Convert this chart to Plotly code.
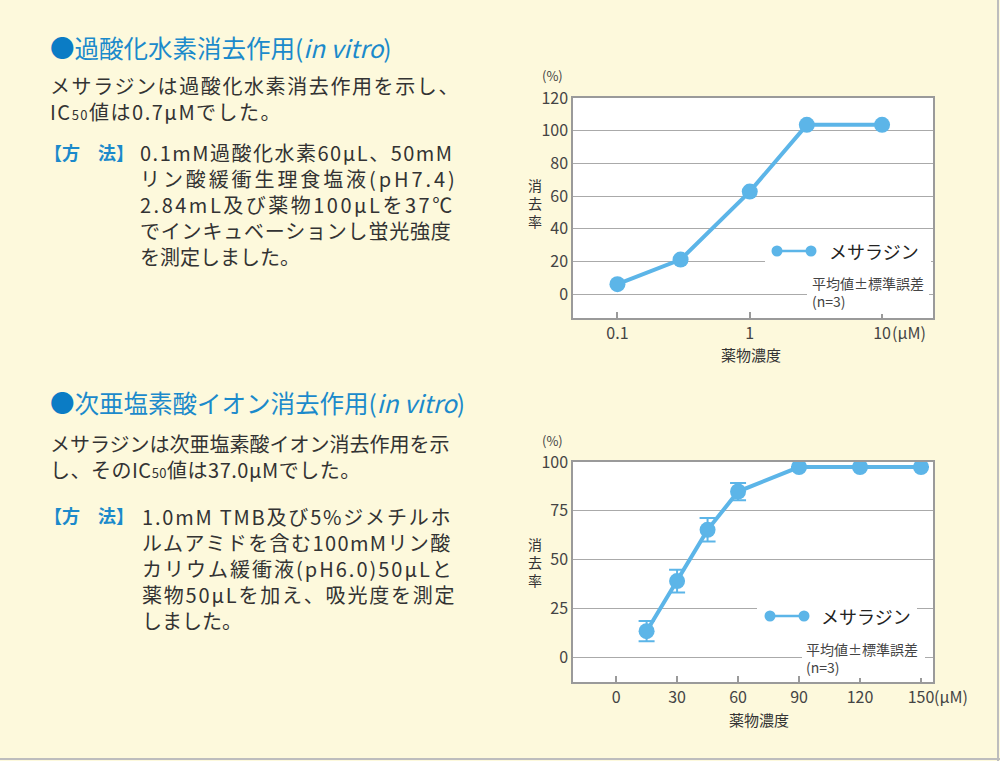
import plotly.graph_objects as go

# ---------------- data ----------------
# Chart 1: hydrogen peroxide scavenging (log concentration, μM)
conc1 = [0.1, 0.3, 1.0, 2.7, 10]
scav1 = [6.2, 21.2, 62.8, 103.6, 103.6]
xticks1 = [0.1, 1, 10]
xticklabels1 = ["0.1", "1", "10"]
yticks1 = [0, 20, 40, 60, 80, 100, 120]

# Chart 2: hypochlorite scavenging (μM)
conc2 = [15, 30, 45, 60, 90, 120, 150]
scav2 = [13.5, 39.1, 65.3, 84.9, 97.4, 97.4, 97.4]
sem2 = [5.2, 5.8, 6.0, 4.4, None, None, None]
xticks2 = [0, 30, 60, 90, 120, 150]
yticks2 = [0, 25, 50, 75, 100]

series_name = "メサラジン"
note_lines = ["平均値±標準誤差", "(n=3)"]

# ---------------- style ----------------
W, H = 1000, 761
JP = "Noto Sans CJK JP"
BG = "#FDF9DC"
BLUE = "#5CB5E8"
TITLE_BLUE = "#1B8ACB"
TEXT = "#333333"
AXIS = "#9A9A9A"
GRID = "#AAAAAA"


def px(x):
    return x / W


def py(y):
    return 1 - y / H


fig = go.Figure()

fig.add_trace(go.Scatter(
    x=conc1, y=scav1, xaxis="x", yaxis="y", mode="lines+markers",
    line=dict(color=BLUE, width=4), marker=dict(color=BLUE, size=16),
    showlegend=False, hoverinfo="skip"))

fig.add_trace(go.Scatter(
    x=conc2, y=scav2, xaxis="x2", yaxis="y2", mode="lines+markers",
    line=dict(color=BLUE, width=4), marker=dict(color=BLUE, size=16),
    error_y=dict(type="data", array=sem2, visible=True, color=BLUE,
                 thickness=2, width=8),
    showlegend=False, hoverinfo="skip"))

# plot areas (pixel geometry)
L, R = 573, 933
T1, B1 = 98, 318
T2, B2 = 462, 682

tickfont = dict(family=JP, size=16, color="#444444")
common_x = dict(showline=True, linecolor=AXIS, linewidth=1.5, mirror=True,
                showgrid=False, zeroline=False, ticks="inside", ticklen=6,
                tickcolor=AXIS, tickwidth=1.5, tickfont=tickfont,
                automargin=False, fixedrange=True)
common_y = dict(showline=True, linecolor=AXIS, linewidth=1.5, mirror=True,
                showgrid=True, gridcolor=GRID, gridwidth=1, zeroline=False,
                ticks="", tickfont=tickfont, automargin=False,
                fixedrange=True)

fig.update_layout(
    width=W, height=H, margin=dict(l=0, r=0, t=0, b=0, pad=0, autoexpand=False),
    paper_bgcolor=BG, plot_bgcolor="white", showlegend=False,
    xaxis=dict(type="log", range=[-1.336, 1.385], domain=[px(L), px(R)],
               anchor="y", tickvals=xticks1, ticktext=xticklabels1, **common_x),
    yaxis=dict(range=[-14.5, 120], domain=[py(B1), py(T1)], anchor="x",
               tickvals=yticks1, **common_y),
    xaxis2=dict(range=[-21.2, 155.9], domain=[px(L), px(R)], anchor="y2",
                tickvals=xticks2, **common_x),
    yaxis2=dict(range=[-12.5, 100], domain=[py(B2), py(T2)], anchor="x2",
                tickvals=yticks2, **common_y),
)

shapes = []
annotations = []


def white_box(x0, x1, y0, y1):
    shapes.append(dict(type="rect", xref="paper", yref="paper",
                       x0=px(x0), x1=px(x1), y0=py(y1), y1=py(y0),
                       fillcolor="white", line=dict(width=0), layer="above"))


def legend_sample(x_a, x_b, y):
    shapes.append(dict(type="line", xref="paper", yref="paper",
                       x0=px(x_a), x1=px(x_b), y0=py(y), y1=py(y),
                       line=dict(color=BLUE, width=2.5), layer="above"))
    r = 5.5
    for xc in (x_a, x_b):
        shapes.append(dict(type="circle", xref="paper", yref="paper",
                           x0=px(xc - r), x1=px(xc + r),
                           y0=py(y + r), y1=py(y - r),
                           fillcolor=BLUE, line=dict(width=0), layer="above"))


def text(x, y, s, size=20, color=TEXT, anchor="left", valign="middle"):
    f = dict(family=JP, size=size, color=color)
    annotations.append(dict(xref="paper", yref="paper", x=px(x), y=py(y),
                            text=s, showarrow=False, xanchor=anchor,
                            yanchor=valign, font=f, align="left",
                            borderpad=0))


def spaced(lines, spacing):
    return "<br>".join(
        "<span style='letter-spacing:%.1fpx'>%s</span>" % (sp, ln) if sp else ln
        for ln, sp in zip(lines, spacing))


# chart 1 decorations
white_box(765, 931, 240, 266)
white_box(807, 929, 268, 314)
legend_sample(777, 811, 251)
text(828, 251, series_name, size=18, color="#222222")
text(811, 292.5, "<br>".join(note_lines), size=14, color="#444444")
text(552, 76, "(%)", size=13, color="#444444", anchor="center")
text(535, 203, "消<br>去<br>率", size=14, color="#333333", anchor="center")
text(751, 355, "薬物濃度", size=15, color="#333333", anchor="center")
text(891, 332, "(μM)", size=16, color="#444444")

# chart 2 decorations
white_box(757, 917, 600, 626)
white_box(802, 925, 633, 678)
legend_sample(770, 804, 616)
text(820, 616, series_name, size=18, color="#222222")
text(805, 658, "<br>".join(note_lines), size=14, color="#444444")
text(552, 440, "(%)", size=13, color="#444444", anchor="center")
text(535, 562, "消<br>去<br>率", size=14, color="#333333", anchor="center")
text(759, 719, "薬物濃度", size=15, color="#333333", anchor="center")
text(933, 696, "(μM)", size=16, color="#444444")

# left text blocks
sub50 = "<span style='font-size:13px'>50</span>"
method = "<b>【方　法】</b>"
bullet = "<span style='color:#0B7CC5'>●</span>"

text(49, 47, bullet + "過酸化水素消去作用(<i>in vitro</i>)", size=24.5, color=TITLE_BLUE)
text(49, 98.5, spaced(["メサラジンは過酸化水素消去作用を示し、",
                       "IC" + sub50 + "値は0.7μMでした。"], [1.6, 1.5]))
text(43, 152, method, size=18, color=TITLE_BLUE)
text(139, 205, spaced(["0.1mM過酸化水素60μL、50mM",
                       "リン酸緩衝生理食塩液(pH7.4)",
                       "2.84mL及び薬物100μLを37℃",
                       "でインキュベーションし蛍光強度",
                       "を測定しました。"], [1.5, 2.9, 2.5, 0.8, 0]))

text(49, 402, bullet + "次亜塩素酸イオン消去作用(<i>in vitro</i>)", size=24.5, color=TITLE_BLUE)
text(49, 456.5, spaced(["メサラジンは次亜塩素酸イオン消去作用を示",
                        "し、そのIC" + sub50 + "値は37.0μMでした。"], [0, 0.5]))
text(43, 515, method, size=18, color=TITLE_BLUE)
text(141, 568.3, spaced(["1.0mM TMB及び5%ジメチルホ",
                         "ルムアミドを含む100mMリン酸",
                         "カリウム緩衝液(pH6.0)50μLと",
                         "薬物50μLを加え、吸光度を測定",
                         "しました。"], [1.8, 1.4, 2.0, 1.8, 0]))

# page edge shadow
shapes.append(dict(type="line", xref="paper", yref="paper", x0=px(998), x1=px(998),
                   y0=0, y1=1, line=dict(color="#BDBDBD", width=2), layer="above"))
shapes.append(dict(type="line", xref="paper", yref="paper", x0=0, x1=1,
                   y0=py(759), y1=py(759), line=dict(color="#BDBDBD", width=2),
                   layer="above"))

fig.update_layout(shapes=shapes, annotations=annotations)
fig.write_html("out.html")
